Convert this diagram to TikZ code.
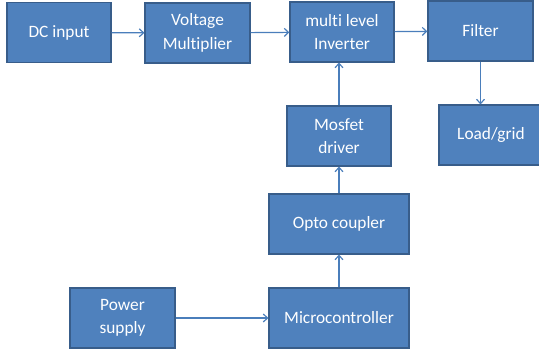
\documentclass[tikz,border=0pt]{standalone}
\usepackage{fontspec}
\setmainfont{Carlito}[Ligatures=NoCommon]
\usepackage{xcolor}
\usetikzlibrary{arrows.meta,positioning}

\definecolor{boxfill}{HTML}{4F81BD}
\definecolor{boxline}{HTML}{385D8A}
\definecolor{flowline}{HTML}{4A7EBB}

\begin{document}
\begin{tikzpicture}[
    x=0.75pt,
    y=-0.75pt,
    >={Straight Barb[length=3.2pt,width=6pt]},
    block/.style={rectangle,draw=boxline,fill=boxfill,line width=0.9pt,
        text=white,font=\fontsize{13}{17.5}\selectfont,align=center,
        inner sep=2pt,minimum width=#1*0.75pt,minimum height=45pt},
    block/.default=104,
    flow/.style={->,draw=flowline,line width=0.9pt}
]

\useasboundingbox (0,0) rectangle (539,352);

% ---------------------------------------------------------
% Power stage (top row)
% ---------------------------------------------------------

\node[block] (dc) at (59,32.5)
    {DC input};

\node[block=105] (mult) at (197.5,33)
    {Voltage\\Multiplier};

\node[block] (inv) at (342,32)
    {multi level\\Inverter};

\node[block=105] (filter) at (480.5,31)
    {Filter};

\node[block=104] (load) at (491,135)
    {Load/grid};

% ---------------------------------------------------------
% Control stage
% ---------------------------------------------------------

\node[block] (driver) at (339,136)
    {Mosfet\\driver};

\node[block=140] (opto) at (339,224)
    {Opto coupler};

\node[block=140] (mcu) at (339,318)
    {Microcontroller};

\node[block=105] (supply) at (122.5,318)
    {Power\\supply};

% ---------------------------------------------------------
% Connections
% ---------------------------------------------------------

\draw[flow] (dc) -- (mult);
\draw[flow] (mult) -- (inv);
\draw[flow] (inv) -- (filter);

\draw[flow]
    (filter.south) -- (filter.south |- load.north);

\draw[flow] (supply) -- (mcu);
\draw[flow] (mcu) -- (opto);
\draw[flow] (opto) -- (driver);

\draw[flow]
    (driver.north) -- (driver.north |- inv.south);

\end{tikzpicture}
\end{document}
